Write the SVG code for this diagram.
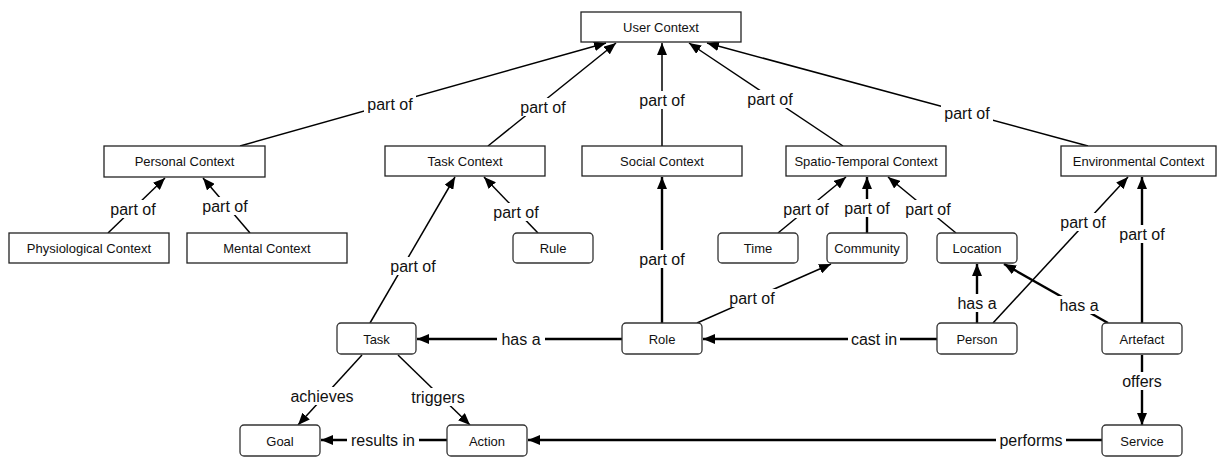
<svg xmlns="http://www.w3.org/2000/svg" width="1219" height="457" viewBox="0 0 1219 457">
<style>
.sq{fill:#fff;stroke:#222;stroke-width:1.3}
.rd{fill:#fff;stroke:#333;stroke-width:1.3}
.nt{font-family:"Liberation Sans",Arial,sans-serif;font-size:13px;fill:#111;text-anchor:middle}
.e{stroke:#000;stroke-width:1.5;fill:none;marker-end:url(#ah)}
.eb{stroke:#000;stroke-width:2.4;fill:none;marker-end:url(#ah)}
.lb{fill:#fff;stroke:none}
.lt{font-family:"Liberation Sans",Arial,sans-serif;font-size:16px;fill:#111;text-anchor:middle}
</style>
<defs>
<marker id="ah" viewBox="0 0 12 10" refX="12" refY="5" markerWidth="12" markerHeight="10" markerUnits="userSpaceOnUse" orient="auto">
<path d="M0,0 L12,5 L0,10 z" fill="#000"/>
</marker>
</defs>
<rect width="1219" height="457" fill="#fff"/>
<g id="connectors">
<line class="e" x1="240" y1="146" x2="606" y2="43"/>
<line class="e" x1="488" y1="146" x2="616" y2="43"/>
<line class="e" x1="662" y1="146" x2="662" y2="43"/>
<line class="e" x1="843" y1="146" x2="689" y2="43"/>
<line class="e" x1="1088" y1="146" x2="707" y2="43"/>
<line class="e" x1="108" y1="233" x2="165" y2="178"/>
<line class="e" x1="250" y1="233" x2="203" y2="178"/>
<line class="e" x1="370" y1="323" x2="455" y2="177"/>
<line class="e" x1="538" y1="233" x2="484" y2="177"/>
<line class="eb" x1="662" y1="323" x2="662" y2="177"/>
<line class="e" x1="778" y1="233" x2="846" y2="177"/>
<line class="eb" x1="867" y1="233" x2="867" y2="177"/>
<line class="e" x1="956" y1="233" x2="888" y2="177"/>
<line class="e" x1="993" y1="323" x2="1128" y2="177"/>
<line class="eb" x1="1142" y1="323" x2="1142" y2="177"/>
<line class="e" x1="697" y1="323" x2="831" y2="264"/>
<line class="eb" x1="977" y1="323" x2="977" y2="264"/>
<line class="eb" x1="1108" y1="323" x2="1004" y2="264"/>
<line class="eb" x1="622" y1="339" x2="417" y2="339"/>
<line class="eb" x1="937" y1="339" x2="703" y2="339"/>
<line class="e" x1="362" y1="355" x2="298" y2="425"/>
<line class="e" x1="398" y1="355" x2="470" y2="425"/>
<line class="eb" x1="447" y1="440" x2="321" y2="440"/>
<line class="eb" x1="1102" y1="440" x2="528" y2="440"/>
<line class="eb" x1="1142" y1="355" x2="1142" y2="425"/>
<rect class="lb" x="364" y="95" width="52" height="18"/><text class="lt" x="390" y="109.5">part of</text>
<rect class="lb" x="517" y="98" width="52" height="18"/><text class="lt" x="543" y="112.5">part of</text>
<rect class="lb" x="636" y="91" width="52" height="18"/><text class="lt" x="662" y="105.5">part of</text>
<rect class="lb" x="744" y="90" width="52" height="18"/><text class="lt" x="770" y="104.5">part of</text>
<rect class="lb" x="941" y="104" width="52" height="18"/><text class="lt" x="967" y="118.5">part of</text>
<rect class="lb" x="107" y="200" width="52" height="18"/><text class="lt" x="133" y="214.5">part of</text>
<rect class="lb" x="199" y="197" width="52" height="18"/><text class="lt" x="225" y="211.5">part of</text>
<rect class="lb" x="387" y="257" width="52" height="18"/><text class="lt" x="413" y="271.5">part of</text>
<rect class="lb" x="490" y="203" width="52" height="18"/><text class="lt" x="516" y="217.5">part of</text>
<rect class="lb" x="636" y="250" width="52" height="18"/><text class="lt" x="662" y="264.5">part of</text>
<rect class="lb" x="780" y="200" width="52" height="18"/><text class="lt" x="806" y="214.5">part of</text>
<rect class="lb" x="841" y="199" width="52" height="18"/><text class="lt" x="867" y="213.5">part of</text>
<rect class="lb" x="902" y="200" width="52" height="18"/><text class="lt" x="928" y="214.5">part of</text>
<rect class="lb" x="1057" y="213" width="52" height="18"/><text class="lt" x="1083" y="227.5">part of</text>
<rect class="lb" x="1116" y="225" width="52" height="18"/><text class="lt" x="1142" y="239.5">part of</text>
<rect class="lb" x="726" y="289" width="52" height="18"/><text class="lt" x="752" y="303.5">part of</text>
<rect class="lb" x="955" y="294" width="44" height="18"/><text class="lt" x="977" y="308.5">has a</text>
<rect class="lb" x="1057" y="296" width="44" height="18"/><text class="lt" x="1079" y="310.5">has a</text>
<rect class="lb" x="497" y="330" width="48" height="18"/><text class="lt" x="521" y="344.5">has a</text>
<rect class="lb" x="848" y="330" width="52" height="18"/><text class="lt" x="874" y="344.5">cast in</text>
<rect class="lb" x="289" y="387" width="66" height="18"/><text class="lt" x="322" y="401.5">achieves</text>
<rect class="lb" x="410" y="388" width="56" height="18"/><text class="lt" x="438" y="402.5">triggers</text>
<rect class="lb" x="347" y="431" width="72" height="18"/><text class="lt" x="383" y="445.5">results in</text>
<rect class="lb" x="996" y="431" width="70" height="18"/><text class="lt" x="1031" y="445.5">performs</text>
<rect class="lb" x="1120" y="372" width="44" height="18"/><text class="lt" x="1142" y="386.5">offers</text>
</g>
<g id="user-context"><rect class="sq" x="581" y="12" width="160" height="30"/><text class="nt" x="661" y="32">User Context</text></g>
<g id="personal-context"><rect class="sq" x="104" y="146" width="161" height="31"/><text class="nt" x="184.5" y="166">Personal Context</text></g>
<g id="task-context"><rect class="sq" x="385" y="146" width="160" height="30"/><text class="nt" x="465" y="166">Task Context</text></g>
<g id="social-context"><rect class="sq" x="582" y="146" width="160" height="30"/><text class="nt" x="662" y="166">Social Context</text></g>
<g id="spatio-temporal-context"><rect class="sq" x="786" y="146" width="160" height="30"/><text class="nt" x="866" y="166">Spatio-Temporal Context</text></g>
<g id="environmental-context"><rect class="sq" x="1061" y="146" width="155" height="30"/><text class="nt" x="1138.5" y="166">Environmental Context</text></g>
<g id="physiological-context"><rect class="sq" x="9" y="233" width="160" height="30"/><text class="nt" x="89" y="253">Physiological Context</text></g>
<g id="mental-context"><rect class="sq" x="187" y="233" width="160" height="30"/><text class="nt" x="267" y="253">Mental Context</text></g>
<g id="rule"><rect class="rd" x="513" y="233" width="80" height="30" rx="4"/><text class="nt" x="553" y="253">Rule</text></g>
<g id="time"><rect class="rd" x="718" y="233" width="80" height="30" rx="4"/><text class="nt" x="758" y="253">Time</text></g>
<g id="community"><rect class="rd" x="827" y="233" width="80" height="30" rx="4"/><text class="nt" x="867" y="253">Community</text></g>
<g id="location"><rect class="rd" x="937" y="233" width="80" height="30" rx="4"/><text class="nt" x="977" y="253">Location</text></g>
<g id="task"><rect class="rd" x="337" y="323" width="79" height="31" rx="4"/><text class="nt" x="376.5" y="343.5">Task</text></g>
<g id="role"><rect class="rd" x="622" y="323" width="80" height="31" rx="4"/><text class="nt" x="662" y="343.5">Role</text></g>
<g id="person"><rect class="rd" x="937" y="323" width="80" height="31" rx="4"/><text class="nt" x="977" y="343.5">Person</text></g>
<g id="artefact"><rect class="rd" x="1102" y="323" width="80" height="31" rx="4"/><text class="nt" x="1142" y="343.5">Artefact</text></g>
<g id="goal"><rect class="rd" x="240" y="425" width="80" height="31" rx="4"/><text class="nt" x="280" y="445.5">Goal</text></g>
<g id="action"><rect class="rd" x="447" y="425" width="80" height="31" rx="4"/><text class="nt" x="487" y="445.5">Action</text></g>
<g id="service"><rect class="rd" x="1102" y="425" width="80" height="31" rx="4"/><text class="nt" x="1142" y="445.5">Service</text></g>
</svg>
